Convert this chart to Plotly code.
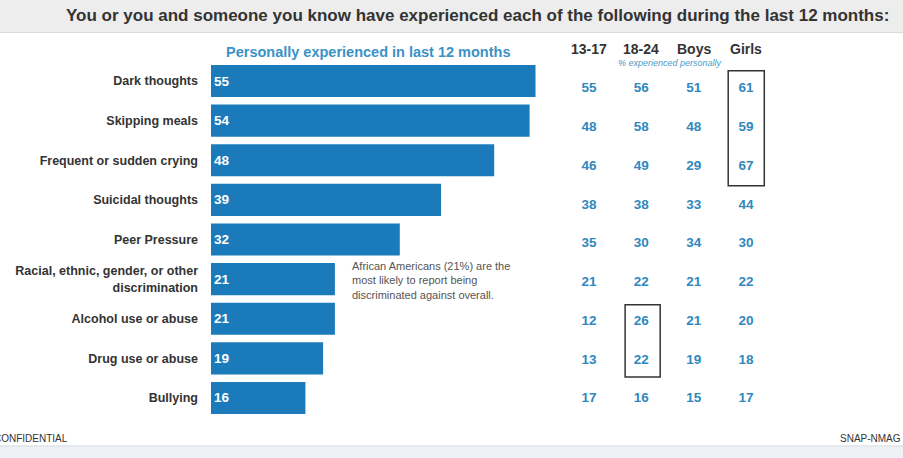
import plotly.graph_objects as go

# data
categories = ["Dark thoughts", "Skipping meals", "Frequent or sudden crying",
              "Suicidal thoughts", "Peer Pressure",
              "Racial, ethnic, gender, or other<br>discrimination",
              "Alcohol use or abuse", "Drug use or abuse", "Bullying"]
overall = [55, 54, 48, 39, 32, 21, 21, 19, 16]

table_cols = ["13-17", "18-24", "Boys", "Girls"]
age_13_17 = [55, 48, 46, 38, 35, 21, 12, 13, 17]
age_18_24 = [56, 58, 49, 38, 30, 22, 26, 22, 16]
boys = [51, 48, 29, 33, 34, 21, 21, 19, 15]
girls = [61, 59, 67, 44, 30, 22, 20, 18, 17]

W, H = 903, 458
BAR = "#1b7bba"
BLUE_TXT = "#3088bd"
DARK = "#333333"


def px(x):
    return x / W


def py(y):
    return 1 - y / H


fig = go.Figure()

# bars
fig.add_trace(go.Bar(
    x=overall, y=categories, orientation="h",
    marker=dict(color=BAR, line=dict(width=0)),
    text=overall, textposition="inside", insidetextanchor="start",
    textfont=dict(color="white", size=13.5, family="Liberation Sans"),
    texttemplate="<b>%{text}</b>", hoverinfo="skip",
    xaxis="x", yaxis="y", showlegend=False,
))

# table columns as text
table = [age_13_17, age_18_24, boys, girls]
for ci, col in enumerate(table):
    fig.add_trace(go.Scatter(
        x=[ci] * len(col), y=list(range(len(col))),
        mode="text", text=[f"<b>{v}</b>" for v in col],
        textfont=dict(color=BLUE_TXT, size=13.5, family="Liberation Sans"),
        xaxis="x2", yaxis="y2", showlegend=False, hoverinfo="skip",
    ))

fig.update_layout(
    width=W, height=H, margin=dict(l=0, r=0, t=0, b=0),
    paper_bgcolor="white", plot_bgcolor="rgba(0,0,0,0)",
    bargap=0.19,
    font=dict(family="Liberation Sans", color=DARK),
    xaxis=dict(domain=[px(211), px(565)], range=[0, 60], visible=False),
    yaxis=dict(domain=[py(417.8), py(61.2)], autorange="reversed",
               showgrid=False, zeroline=False, showline=False,
               ticks="", ticklabelstandoff=12,
               tickprefix="<b>", ticksuffix="</b>",
               tickfont=dict(size=12.5, color=DARK, family="Liberation Sans")),
    xaxis2=dict(domain=[px(562.85), px(772.15)], range=[-0.5, 3.5], visible=False),
    yaxis2=dict(domain=[py(418.4), py(69.6)], range=[8.5, -0.5], visible=False),
)

shapes = [
    # title band
    dict(type="rect", xref="paper", yref="paper", x0=0, x1=1, y0=py(32), y1=1,
         fillcolor="#ededed", line=dict(width=0), layer="below"),
    dict(type="line", xref="paper", yref="paper", x0=0, x1=1, y0=py(32.5), y1=py(32.5),
         line=dict(color="#dcdcdc", width=1)),
    # bottom band
    dict(type="rect", xref="paper", yref="paper", x0=0, x1=1, y0=0, y1=py(446),
         fillcolor="#eef2f6", line=dict(width=0), layer="below"),
    dict(type="line", xref="paper", yref="paper", x0=0, x1=1, y0=py(446), y1=py(446),
         line=dict(color="#dfe3e8", width=1.5)),
    # highlight boxes
    dict(type="rect", xref="x2", yref="y2", x0=2.66, x1=3.35, y0=-0.47, y1=2.5,
         line=dict(color="#333333", width=1.5)),
    dict(type="rect", xref="x2", yref="y2", x0=0.69, x1=1.36, y0=5.57, y1=7.43,
         line=dict(color="#333333", width=1.5)),
]
fig.update_layout(shapes=shapes)

annotations = [
    dict(text="<b>You or you and someone you know have experienced each of the following during the last 12 months:</b>",
         x=px(477), y=py(16), xanchor="center", yanchor="middle",
         font=dict(size=17, color="#333333")),
    dict(text="<b>Personally experienced in last 12 months</b>",
         x=px(224), y=py(52), xanchor="left", yanchor="middle",
         font=dict(size=14.5, color="#3a92c6")),
    dict(text="<i>% experienced personally</i>", x=px(670), y=py(63),
         xanchor="center", yanchor="middle",
         font=dict(size=9, color="#4c9ac8")),
    dict(text="African Americans (21%) are the<br>most likely to report being<br>discriminated against overall.",
         x=px(350), y=py(258), xanchor="left", yanchor="top",
         align="left", font=dict(size=11, color="#555555")),
    dict(text="CONFIDENTIAL", x=px(-8), y=py(438), xanchor="left", yanchor="middle",
         font=dict(size=10, color="#333333")),
    dict(text="SNAP-NMAG", x=1, y=py(438), xanchor="right", yanchor="middle",
         font=dict(size=10, color="#333333")),
]
for a in annotations:
    a.update(xref="paper", yref="paper", showarrow=False)
for i, name in enumerate(table_cols):
    annotations.append(dict(text=f"<b>{name}</b>", x=i, y=py(49), xref="x2", yref="paper",
                            xanchor="center", yanchor="middle",
                            showarrow=False, font=dict(size=14, color=DARK)))
fig.update_layout(annotations=annotations)

fig.write_html("out.html", config={"displayModeBar": False},
               post_script="document.body.style.margin='0';")
